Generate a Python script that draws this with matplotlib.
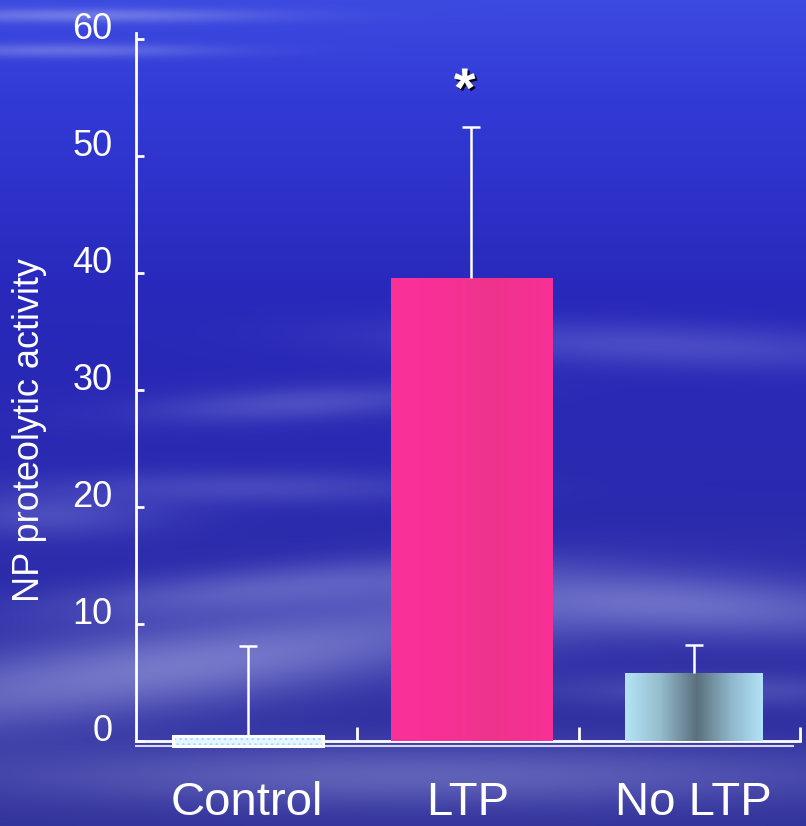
import numpy as np
import matplotlib
matplotlib.use("Agg")
import matplotlib.pyplot as plt
import matplotlib.patheffects as pe

# ---------------- data ----------------
categories = ["Control", "LTP", "No LTP"]
means = [0.4, 39.6, 5.8]
errors = [7.7, 12.9, 2.4]
yticks = [0, 10, 20, 30, 40, 50, 60]
ylabel = "NP proteolytic activity"
significance = ["", "*", ""]

plt.rcParams['font.family'] = ['Liberation Sans', 'DejaVu Sans']

W, H = 806, 826
fig = plt.figure(figsize=(W / 100, H / 100), dpi=100)

# ---------------- background (sky) ----------------
yy, xx = np.mgrid[0:H, 0:W].astype(float)
rows = np.array([0, 100, 300, 500, 826], float)
cols = np.array([[60, 74, 224], [50, 58, 214], [40, 40, 186], [42, 42, 176], [50, 50, 155]], float)
base = np.zeros((H, W, 3))
for c in range(3):
    base[..., c] = np.interp(yy, rows, cols[:, c])

clouds = [
    (80, 15, 130, 5, 0, 0.35),
    (60, 50, 110, 5, 0, 0.30),
    (300, 403, 110, 12, -3, 0.22),
    (660, 345, 190, 16, 2, 0.20),
    (250, 487, 140, 12, 0, 0.18),
    (50, 515, 80, 16, 0, 0.20),
    (270, 588, 160, 16, -5, 0.28),
    (180, 665, 260, 30, -8, 0.45),
    (690, 605, 170, 22, 3, 0.35),
    (420, 775, 320, 22, 0, 0.30),
    (720, 690, 120, 12, 0, 0.18),
]
cloud_col = np.array([205, 210, 245], float)
for cx, cy, sx, sy, ang, a in clouds:
    t = np.deg2rad(ang)
    dx, dy = xx - cx, yy - cy
    u = dx * np.cos(t) + dy * np.sin(t)
    v = -dx * np.sin(t) + dy * np.cos(t)
    g = a * np.exp(-0.5 * ((u / sx) ** 2 + (v / sy) ** 2))
    base = base * (1 - g[..., None]) + cloud_col * g[..., None]

bg = fig.add_axes([0, 0, 1, 1], zorder=-10)
bg.imshow(base.clip(0, 255).astype(np.uint8), aspect='auto', extent=[0, 1, 0, 1])
bg.axis('off')

# ---------------- main axes ----------------
ax = fig.add_axes([136 / W, 85 / H, (800 - 136) / W, (741 - 33) / H])
ax.patch.set_alpha(0)

positions = [0.505, 1.515, 2.52]
widths = [0.68, 0.73, 0.62]

# Control bar (thin, dotted)
ax.bar(positions[0], means[0] + 0.45, width=widths[0], bottom=-0.45,
       color='#e6f5ff', edgecolor='#9fdcff', hatch='...', linewidth=0,
       clip_on=False, zorder=3)
ax.bar(positions[0], means[0] + 0.45, width=widths[0], bottom=-0.45,
       facecolor='none', edgecolor='white', linewidth=2.2, clip_on=False, zorder=4)

# gradient bars
def gradient_bar(pos, val, w, stops, z=3):
    bars = ax.bar(pos, val, width=w, color='none', linewidth=0, zorder=z)
    r = bars[0]
    xs = np.linspace(0, 1, 200)
    st = np.array([s[0] for s in stops])
    cs = np.array([s[1] for s in stops], float) / 255
    grad = np.stack([np.interp(xs, st, cs[:, c]) for c in range(3)], axis=-1)[None, :, :]
    im = ax.imshow(grad, aspect='auto', extent=[r.get_x(), r.get_x() + r.get_width(), 0, r.get_height()],
                   zorder=z, interpolation='bilinear')
    im.set_clip_path(r)
    return r

gradient_bar(positions[1], means[1], widths[1],
             [(0, (250, 48, 152)), (0.35, (247, 49, 150)), (0.6, (238, 52, 140)), (1, (248, 48, 150))])
gradient_bar(positions[2], means[2], widths[2],
             [(0, (180, 228, 248)), (0.25, (150, 190, 205)), (0.52, (90, 112, 125)),
              (0.78, (145, 185, 205)), (1, (178, 226, 247))])
ax.set_xlim(0, 3)
ax.set_ylim(0, 60.5)

# error bars (upper only, no cap at the bar top)
for p, m, e in zip(positions, means, errors):
    _, caps, _ = ax.errorbar(p, m, yerr=[[0], [e]], fmt='none', ecolor='white', elinewidth=1.8,
                             capsize=6.5, capthick=1.8, zorder=5)
    caps[0].set_visible(False)

# significance
for p, m, e, s in zip(positions, means, errors, significance):
    if s:
        ax.text(p - 0.03, 54.2, s, ha='center', va='baseline', fontsize=40, fontweight='bold',
                color='white', zorder=6,
                path_effects=[pe.withSimplePatchShadow(offset=(1.5, -1.5), shadow_rgbFace='black', alpha=0.9)])

# spines / ticks
for s in ['top', 'right']:
    ax.spines[s].set_visible(False)
for s in ['left', 'bottom']:
    ax.spines[s].set_color('white')
    ax.spines[s].set_linewidth(2)

ax.set_yticks(yticks)
ax.set_yticklabels([str(v) for v in yticks])
ax.tick_params(axis='y', direction='in', length=6, width=2, colors='white', labelsize=26, pad=17)
for lbl in ax.get_yticklabels():
    lbl.set_va('baseline')

ax.set_xticks([1, 2, 3])
ax.set_xticklabels([])
ax.tick_params(axis='x', which='major', direction='in', length=10, width=2, colors='white')
ax.set_xticks([0.5, 1.5, 2.52], categories, minor=True)
ax.tick_params(axis='x', which='minor', length=0, labelsize=34, labelcolor='white', pad=29)

# shadow line below x-axis
ax.plot([0, 2.97], [-0.4, -0.4], color='#d8d8f2', lw=1.5, clip_on=False, zorder=2)

fig.text(30 / W, 1 - 430 / H, ylabel, rotation=90, ha='center', va='center',
         fontsize=26, color='white')

fig.savefig("out.png", dpi=100)
